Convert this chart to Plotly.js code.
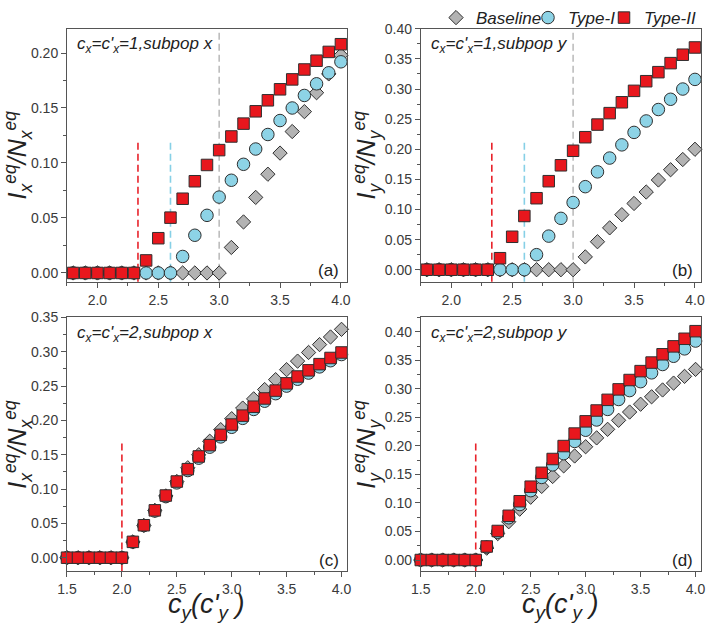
<!DOCTYPE html>
<html>
<head>
<meta charset="utf-8">
<script src="https://cdn.plot.ly/plotly-3.0.1.min.js"></script>
<style>html,body{margin:0;padding:0;background:#fff;} #chart{width:706px;height:625px;}</style>
</head>
<body>
<div id="chart"></div>
<script>
// ---------- data ----------
const cTop = [1.8,1.9,2.0,2.1,2.2,2.3,2.4,2.5,2.6,2.7,2.8,2.9,3.0,3.1,3.2,3.3,3.4,3.5,3.6,3.7,3.8,3.9,4.0];
const cBottom = [1.5,1.6,1.7,1.8,1.9,2.0,2.1,2.2,2.3,2.4,2.5,2.6,2.7,2.8,2.9,3.0,3.1,3.2,3.3,3.4,3.5,3.6,3.7,3.8,3.9,4.0];

// (a) c_x=c'_x=1, subpop x
const baselineA = [0,0,0,0,0,0,0,0,0,0,0,0,0,0.0232,0.0464,0.0687,0.0898,0.109,0.1286,0.1467,0.1639,0.181,0.198];
const typeIA    = [0,0,0,0,0,0,0,0,0,0.015,0.0343,0.0524,0.069,0.0843,0.0988,0.1127,0.1259,0.1386,0.15,0.1614,0.172,0.182,0.192];
const typeIIA   = [0,0,0,0,0,0,0.0114,0.0316,0.0503,0.0675,0.0834,0.0982,0.1117,0.1241,0.1358,0.147,0.157,0.167,0.176,0.185,0.193,0.201,0.208];

// (b) c_x=c'_x=1, subpop y
const baselineB = [0,0,0,0,0,0,0,0,0,0,0,0,0,0.0213,0.0465,0.0695,0.0914,0.11,0.129,0.149,0.166,0.183,0.2];
const typeIB    = [0,0,0,0,0,0,0,0,0,0.025,0.0558,0.0853,0.1116,0.1379,0.1625,0.1854,0.2073,0.228,0.247,0.266,0.283,0.300,0.316];
const typeIIB   = [0,0,0,0,0,0,0.0191,0.0547,0.0892,0.1187,0.147,0.1734,0.1975,0.22,0.241,0.26,0.278,0.297,0.313,0.328,0.343,0.357,0.369];

// (c) c_x=c'_x=2, subpop x
const baselineC = [0,0,0,0,0,0,0.023,0.047,0.069,0.090,0.111,0.131,0.150,0.1697,0.1866,0.2025,0.218,0.2314,0.245,0.2594,0.274,0.2864,0.299,0.3105,0.3216,0.3327];
const typeIC    = [0,0,0,0,0,0,0.0228,0.0468,0.068,0.089,0.109,0.127,0.145,0.161,0.176,0.190,0.203,0.216,0.228,0.239,0.250,0.260,0.269,0.278,0.287,0.296];
const typeIIC   = [0,0,0,0,0,0,0.0231,0.0473,0.069,0.0906,0.111,0.129,0.1475,0.164,0.179,0.194,0.207,0.220,0.232,0.2435,0.254,0.264,0.273,0.282,0.291,0.299];

// (d) c_x=c'_x=2, subpop y
const baselineD = [0,0,0,0,0,0,0.0208,0.0463,0.0671,0.0891,0.11,0.129,0.1464,0.165,0.1823,0.1985,0.214,0.229,0.2448,0.2593,0.273,0.286,0.298,0.310,0.3218,0.334];
const typeID    = [0,0,0,0,0,0,0.0226,0.0486,0.074,0.0972,0.1215,0.1447,0.1667,0.1863,0.2078,0.2274,0.2454,0.2639,0.2813,0.2969,0.3125,0.328,0.3426,0.357,0.370,0.3837];
const typeIID   = [0,0,0,0,0,0,0.0237,0.0509,0.0775,0.103,0.1285,0.1528,0.177,0.1997,0.2216,0.243,0.262,0.2807,0.299,0.3154,0.331,0.346,0.3605,0.3744,0.3877,0.401];

// thresholds (dashed lines)
const thrTop = {typeII: 2.333, typeI: 2.6, baseline: 3.0};
const thrBottom = {all: 2.0};

const seriesNames = ['Baseline','Type-I','Type-II'];
const panelLabels = ['(a)','(b)','(c)','(d)'];
const panelTitles = [
  "c<sub>x</sub>=c'<sub>x</sub>=1,subpop x",
  "c<sub>x</sub>=c'<sub>x</sub>=1,subpop y",
  "c<sub>x</sub>=c'<sub>x</sub>=2,subpop x",
  "c<sub>x</sub>=c'<sub>x</sub>=2,subpop y"
];
const yTitles = [
  "I<sub>x</sub><sup>eq</sup>/N<sub>x</sub><sup>eq</sup>",
  "I<sub>y</sub><sup>eq</sup>/N<sub>y</sub><sup>eq</sup>",
  "I<sub>x</sub><sup>eq</sup>/N<sub>x</sub><sup>eq</sup>",
  "I<sub>y</sub><sup>eq</sup>/N<sub>y</sub><sup>eq</sup>"
];
const xTitle = "c<sub>y</sub>(c'<sub>y</sub> )";

// ---------- styles ----------
const FONT = 'Liberation Sans, Arial, sans-serif';
const styles = [
  {symbol:'diamond', size:11, color:'#b3b3b3'},
  {symbol:'circle', size:12.5, color:'#8dd3e6'},
  {symbol:'square', size:11.5, color:'#e8171d'}
];
const lineCol = {red:'#e8232b', cyan:'#86d0e6', gray:'#bdbdbd'};
const legendIds = ['legend','legend2','legend3'];

const panels = [
  {x:cTop, ys:[baselineA,typeIA,typeIIA], xa:'x', ya:'y'},
  {x:cTop, ys:[baselineB,typeIB,typeIIB], xa:'x2', ya:'y2'},
  {x:cBottom, ys:[baselineC,typeIC,typeIIC], xa:'x3', ya:'y3'},
  {x:cBottom, ys:[baselineD,typeID,typeIID], xa:'x4', ya:'y4'}
];

const traces = [];
panels.forEach((p, pi) => {
  p.ys.forEach((yv, si) => {
    traces.push({
      type:'scatter', mode:'markers', x:p.x, y:yv, xaxis:p.xa, yaxis:p.ya,
      name:seriesNames[si], legendgroup:seriesNames[si], showlegend: pi===0,
      legend: legendIds[si],
      marker:{symbol:styles[si].symbol, size:styles[si].size, color:styles[si].color,
              line:{color:'#2f2f2f', width:1}},
      cliponaxis:false
    });
  });
});

const TICKFONT = {family:FONT, size:14, color:'#3a3a3a'};
function xAxis(domain, range, dtick, tick0, anchor){
  return {
    domain:domain, range:range, dtick:dtick, tick0:tick0, tickformat:'.1f', anchor:anchor,
    showline:true, linecolor:'#555', linewidth:1, mirror:true,
    ticks:'outside', ticklen:5, tickcolor:'#555', tickwidth:1,
    minor:{ticks:'outside', ticklen:3, tickcolor:'#555', dtick:dtick/2, tick0:tick0},
    showgrid:false, zeroline:false,
    tickfont:TICKFONT
  };
}
function yAxis(domain, range, anchor, title){
  return {
    domain:domain, range:range, dtick:0.05, tick0:0, tickformat:'.2f', anchor:anchor,
    showline:true, linecolor:'#555', linewidth:1, mirror:true,
    ticks:'outside', ticklen:5, tickcolor:'#555', tickwidth:1,
    minor:{ticks:'outside', ticklen:3, tickcolor:'#555', dtick:0.025},
    showgrid:false, zeroline:false,
    tickfont:TICKFONT,
    title:{text:title, standoff:1, font:{family:FONT, size:25, style:'italic', color:'#222'}}
  };
}
// inward mirror ticks on top / right edges
function xTopAxis(base, overlay, anchor){
  return {overlaying:overlay, anchor:anchor, side:'top', range:base.range, dtick:base.dtick, tick0:base.tick0,
    showline:false, showticklabels:false, showgrid:false, zeroline:false,
    ticks:'inside', ticklen:5, tickcolor:'#555', tickwidth:1,
    minor:{ticks:'inside', ticklen:3, tickcolor:'#555', dtick:base.dtick/2, tick0:base.tick0}};
}
function yRightAxis(base, overlay, anchor){
  return {overlaying:overlay, anchor:anchor, side:'right', range:base.range, dtick:0.05, tick0:0,
    showline:false, showticklabels:false, showgrid:false, zeroline:false,
    ticks:'inside', ticklen:5, tickcolor:'#555', tickwidth:1,
    minor:{ticks:'inside', ticklen:3, tickcolor:'#555', dtick:0.025}};
}

const dxL = [0.0949, 0.4915], dxR = [0.596, 0.993];
const dyT = [0.5536, 0.9616], dyB = [0.0864, 0.496];

function vline(xref, yref, xv, frac, col){
  return {type:'line', xref:xref, yref:yref, x0:xv, x1:xv, y0:0, y1:frac,
          line:{color:col, width:1.6, dash:'7px,4px'}, layer:'below'};
}

const shapes = [
  vline('x','y domain', thrTop.typeII, 0.565, lineCol.red),
  vline('x','y domain', thrTop.typeI, 0.565, lineCol.cyan),
  vline('x','y domain', thrTop.baseline, 1, lineCol.gray),
  vline('x2','y2 domain', thrTop.typeII, 0.565, lineCol.red),
  vline('x2','y2 domain', thrTop.typeI, 0.565, lineCol.cyan),
  vline('x2','y2 domain', thrTop.baseline, 1, lineCol.gray),
  vline('x3','y3 domain', thrBottom.all, 0.512, lineCol.red),
  vline('x4','y4 domain', thrBottom.all, 0.512, lineCol.red)
];

const axRefs = [['x','y'],['x2','y2'],['x3','y3'],['x4','y4']];
const annotations = [];
axRefs.forEach((r, i) => {
  annotations.push({xref:r[0]+' domain', yref:r[1]+' domain', x:0.03, y:0.935, xanchor:'left', yanchor:'middle',
    text:panelTitles[i], showarrow:false, font:{family:FONT, size:17, style:'italic', color:'#222'}});
  annotations.push({xref:r[0]+' domain', yref:r[1]+' domain', x:0.98, y:0.045, xanchor:'right', yanchor:'middle',
    text:panelLabels[i], showarrow:false, font:{family:FONT, size:17, color:'#222'}});
});
// x-axis titles of the bottom panels
['x3','x4'].forEach(xr => {
  annotations.push({xref:xr+' domain', yref:'paper', x:0.5, y:0.0, xanchor:'center', yanchor:'bottom',
    text:xTitle, showarrow:false, font:{family:FONT, size:27, style:'italic', color:'#222'}});
});

function legendAt(xpx){
  return {orientation:'h', x:xpx/706, xanchor:'left', y:1.008, yanchor:'top',
          font:{family:FONT, size:17, style:'italic', color:'#222'}, itemwidth:30,
          bgcolor:'rgba(0,0,0,0)'};
}

const xa1 = xAxis(dxL, [1.75,4.05], 0.5, 2.0, 'y');
const ya1 = yAxis(dyT, [-0.008,0.222], 'x', yTitles[0]);
const xa2 = xAxis(dxR, [1.75,4.05], 0.5, 2.0, 'y2');
const ya2 = yAxis(dyT, [-0.02,0.40], 'x2', yTitles[1]);
const xa3 = xAxis(dxL, [1.5,4.05], 0.5, 1.5, 'y3');
const ya3 = yAxis(dyB, [-0.02,0.35], 'x3', yTitles[2]);
const xa4 = xAxis(dxR, [1.5,4.05], 0.5, 1.5, 'y4');
const ya4 = yAxis(dyB, [-0.02,0.425], 'x4', yTitles[3]);

const layout = {
  width:706, height:625, margin:{l:0, r:0, t:0, b:0},
  paper_bgcolor:'#fff', plot_bgcolor:'#fff',
  font:{family:FONT},
  showlegend:true,
  legend: legendAt(436),
  legend2: legendAt(528),
  legend3: legendAt(604),
  xaxis: xa1, yaxis: ya1, xaxis2: xa2, yaxis2: ya2,
  xaxis3: xa3, yaxis3: ya3, xaxis4: xa4, yaxis4: ya4,
  xaxis5: xTopAxis(xa1, 'x', 'y'),
  xaxis6: xTopAxis(xa2, 'x2', 'y2'),
  xaxis7: xTopAxis(xa3, 'x3', 'y3'),
  xaxis8: xTopAxis(xa4, 'x4', 'y4'),
  yaxis5: yRightAxis(ya1, 'y', 'x'),
  yaxis6: yRightAxis(ya2, 'y2', 'x2'),
  yaxis7: yRightAxis(ya3, 'y3', 'x3'),
  yaxis8: yRightAxis(ya4, 'y4', 'x4'),
  shapes:shapes,
  annotations:annotations
};

Plotly.newPlot('chart', traces, layout, {staticPlot:true, displayModeBar:false});
</script>
</body>
</html>
